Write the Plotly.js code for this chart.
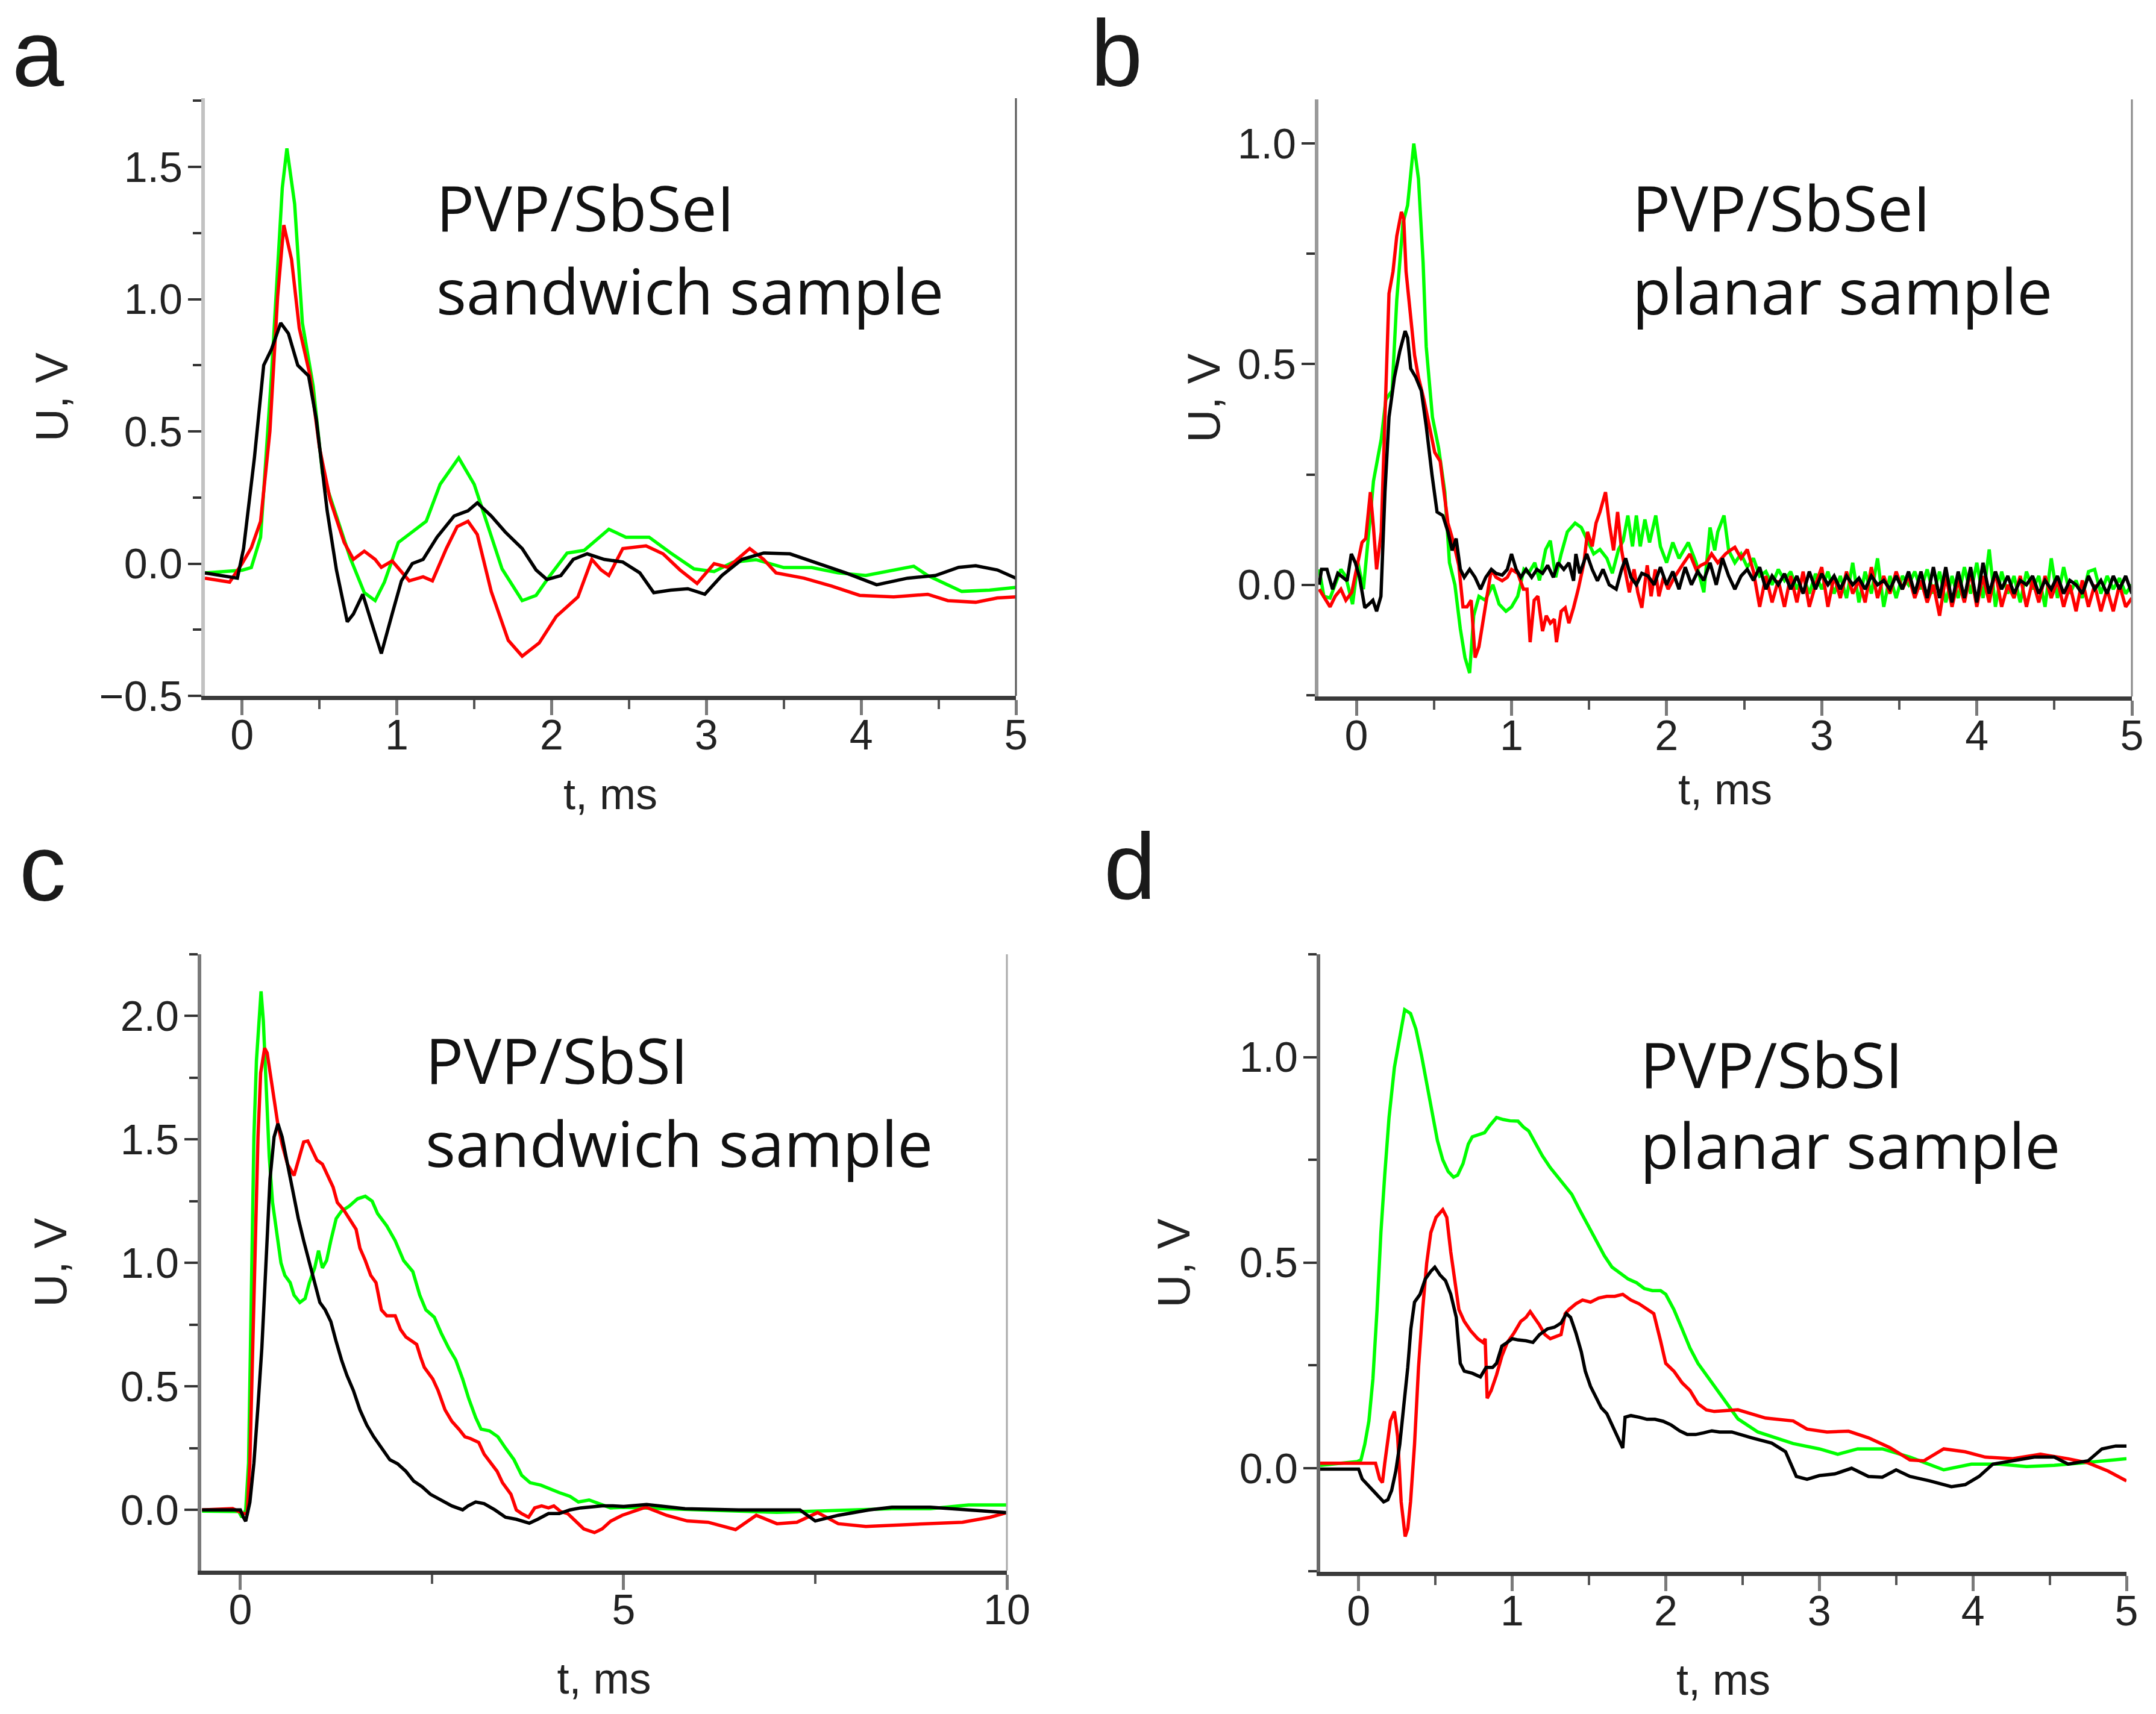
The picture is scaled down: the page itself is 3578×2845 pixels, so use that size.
<!DOCTYPE html>
<html><head><meta charset="utf-8">
<script src="https://cdn.plot.ly/plotly-3.0.1.min.js"></script>
<style>html,body{margin:0;padding:0;background:#fff}#chart{width:3578px;height:2845px}</style>
</head><body><div id="chart"></div>
<script>
// ---------------- DATA (t in ms, U in V) ----------------
const panelLetters = ['a','b','c','d'];
const panelTitles = [['PVP/SbSeI','sandwich sample'],['PVP/SbSeI','planar sample'],['PVP/SbSI','sandwich sample'],['PVP/SbSI','planar sample']];
const seriesColors = ['#00ff00','#ff0000','#000000'];

// panel a : PVP/SbSeI sandwich
const a_green = [[-0.24,-0.035],[-0.1,-0.03],[0,-0.025],[0.06,-0.015],[0.12,0.10],[0.19,0.71],[0.26,1.42],[0.29,1.57],[0.34,1.36],[0.39,0.91],[0.46,0.67],[0.52,0.34],[0.61,0.18],[0.70,0.02],[0.79,-0.11],[0.86,-0.14],[0.92,-0.07],[1.01,0.08],[1.10,0.12],[1.19,0.16],[1.28,0.30],[1.40,0.40],[1.50,0.30],[1.59,0.14],[1.68,-0.02],[1.81,-0.14],[1.90,-0.12],[1.99,-0.045],[2.10,0.04],[2.21,0.05],[2.37,0.13],[2.48,0.10],[2.63,0.10],[2.77,0.04],[2.92,-0.02],[3.05,-0.03],[3.17,0.005],[3.32,0.015],[3.50,-0.015],[3.68,-0.015],[3.85,-0.035],[4.03,-0.045],[4.21,-0.025],[4.34,-0.01],[4.43,-0.045],[4.65,-0.105],[4.83,-0.10],[5.0,-0.09]];
const a_red = [[-0.24,-0.055],[-0.08,-0.07],[0,0.0],[0.06,0.06],[0.12,0.16],[0.18,0.5],[0.23,1.01],[0.27,1.28],[0.32,1.15],[0.37,0.89],[0.44,0.71],[0.50,0.44],[0.57,0.24],[0.66,0.08],[0.72,0.016],[0.79,0.047],[0.86,0.016],[0.90,-0.014],[0.97,0.01],[1.08,-0.065],[1.17,-0.05],[1.23,-0.065],[1.32,0.057],[1.39,0.14],[1.46,0.16],[1.52,0.11],[1.61,-0.105],[1.72,-0.29],[1.81,-0.35],[1.92,-0.30],[2.03,-0.20],[2.17,-0.126],[2.26,0.016],[2.32,-0.024],[2.37,-0.045],[2.46,0.057],[2.61,0.067],[2.72,0.037],[2.83,-0.024],[2.94,-0.075],[3.05,0.0],[3.14,-0.014],[3.28,0.057],[3.37,0.016],[3.45,-0.035],[3.63,-0.055],[3.81,-0.085],[3.99,-0.12],[4.21,-0.126],[4.43,-0.116],[4.56,-0.14],[4.74,-0.146],[4.88,-0.13],[5.0,-0.126]];
const a_black = [[-0.24,-0.035],[-0.03,-0.055],[0.01,0.057],[0.08,0.40],[0.14,0.75],[0.19,0.81],[0.25,0.91],[0.30,0.87],[0.36,0.75],[0.43,0.71],[0.48,0.545],[0.55,0.2],[0.61,-0.024],[0.68,-0.22],[0.72,-0.19],[0.78,-0.116],[0.83,-0.21],[0.90,-0.34],[0.97,-0.19],[1.03,-0.065],[1.10,0.0],[1.17,0.016],[1.26,0.1],[1.37,0.18],[1.46,0.2],[1.52,0.23],[1.61,0.18],[1.70,0.12],[1.81,0.057],[1.90,-0.024],[1.97,-0.06],[2.06,-0.045],[2.14,0.016],[2.23,0.037],[2.34,0.016],[2.46,0.006],[2.57,-0.035],[2.66,-0.11],[2.77,-0.10],[2.88,-0.095],[2.99,-0.116],[3.10,-0.045],[3.23,0.016],[3.37,0.04],[3.54,0.037],[3.72,0.0],[3.90,-0.035],[4.10,-0.08],[4.30,-0.055],[4.48,-0.045],[4.63,-0.014],[4.74,-0.008],[4.88,-0.024],[5.0,-0.055]];

// panel b : PVP/SbSeI planar
const b_green = [[-0.24,0.035],[-0.21,-0.026],[-0.17,-0.03],[-0.14,0.0],[-0.10,0.035],[-0.07,0.02],[-0.025,-0.044],[0.01,0.05],[0.045,-0.01],[0.08,0.12],[0.11,0.235],[0.16,0.33],[0.19,0.42],[0.23,0.44],[0.26,0.645],[0.30,0.82],[0.33,0.86],[0.37,1.0],[0.40,0.92],[0.43,0.73],[0.45,0.54],[0.49,0.38],[0.53,0.31],[0.57,0.21],[0.60,0.05],[0.635,0.0],[0.67,-0.1],[0.70,-0.165],[0.73,-0.20],[0.756,-0.07],[0.79,-0.026],[0.83,-0.035],[0.88,0.0],[0.92,-0.044],[0.964,-0.06],[1.0,-0.05],[1.04,-0.026],[1.08,0.035],[1.11,0.026],[1.15,0.05],[1.18,0.01],[1.22,0.08],[1.25,0.1],[1.285,0.017],[1.32,0.07],[1.36,0.12],[1.41,0.14],[1.45,0.13],[1.485,0.105],[1.53,0.07],[1.57,0.08],[1.615,0.06],[1.65,0.026],[1.69,0.08],[1.72,0.1],[1.75,0.157],[1.78,0.087],[1.805,0.157],[1.83,0.087],[1.86,0.148],[1.89,0.096],[1.93,0.157],[1.96,0.087],[2.0,0.05],[2.04,0.096],[2.08,0.06],[2.14,0.096],[2.19,0.05],[2.24,-0.017],[2.28,0.13],[2.31,0.078],[2.33,0.12],[2.37,0.157],[2.40,0.078],[2.44,0.05],[2.48,0.07],[2.52,0.04],[2.56,0.06],[2.60,0.02],[2.64,0.03],[2.68,0.0],[2.72,0.035],[2.76,0.01],[2.80,0.03],[2.84,-0.01],[2.88,0.02],[2.92,-0.02],[2.96,0.025],[3.00,-0.01],[3.04,0.03],[3.08,-0.02],[3.12,0.02],[3.16,-0.03],[3.20,0.05],[3.24,-0.04],[3.28,0.03],[3.32,-0.02],[3.36,0.06],[3.40,-0.05],[3.44,0.02],[3.48,-0.03],[3.52,0.02],[3.56,0.0],[3.60,0.03],[3.64,-0.01],[3.68,0.035],[3.72,-0.02],[3.76,0.03],[3.80,-0.04],[3.84,0.02],[3.88,-0.03],[3.92,0.04],[3.96,-0.02],[4.00,0.05],[4.04,-0.03],[4.08,0.08],[4.12,-0.05],[4.16,0.03],[4.20,-0.02],[4.24,0.02],[4.28,-0.04],[4.32,0.03],[4.36,-0.01],[4.40,0.02],[4.44,-0.05],[4.48,0.06],[4.52,-0.03],[4.56,0.04],[4.60,-0.02],[4.64,0.01],[4.68,-0.03],[4.72,0.03],[4.76,0.035],[4.80,-0.02],[4.84,0.02],[4.88,-0.01],[4.92,0.015],[4.96,-0.02],[5.0,0.0]];
const b_red = [[-0.24,-0.01],[-0.206,-0.03],[-0.17,-0.05],[-0.137,-0.026],[-0.10,-0.01],[-0.068,-0.035],[-0.03,-0.017],[0.0,0.035],[0.036,0.096],[0.06,0.105],[0.09,0.21],[0.11,0.13],[0.13,0.035],[0.16,0.12],[0.18,0.34],[0.21,0.66],[0.236,0.71],[0.26,0.79],[0.29,0.845],[0.305,0.83],[0.32,0.71],[0.35,0.60],[0.375,0.52],[0.40,0.47],[0.435,0.42],[0.47,0.36],[0.505,0.30],[0.54,0.28],[0.565,0.21],[0.59,0.14],[0.626,0.096],[0.66,0.044],[0.687,-0.05],[0.713,-0.05],[0.74,-0.035],[0.765,-0.165],[0.79,-0.14],[0.817,-0.08],[0.843,-0.026],[0.87,0.035],[0.90,0.017],[0.94,0.009],[0.973,0.017],[1.0,0.035],[1.04,0.026],[1.077,-0.01],[1.10,-0.01],[1.12,-0.13],[1.146,-0.035],[1.17,-0.026],[1.20,-0.105],[1.224,-0.07],[1.25,-0.087],[1.276,-0.078],[1.29,-0.13],[1.32,-0.06],[1.346,-0.052],[1.37,-0.087],[1.40,-0.052],[1.43,-0.01],[1.467,0.05],[1.49,0.12],[1.52,0.087],[1.545,0.14],[1.57,0.165],[1.606,0.21],[1.63,0.14],[1.658,0.078],[1.684,0.165],[1.71,0.078],[1.736,0.026],[1.76,-0.017],[1.79,0.035],[1.814,-0.017],[1.84,-0.052],[1.875,0.044],[1.90,-0.026],[1.927,0.035],[1.95,-0.026],[1.98,0.017],[2.01,-0.01],[2.05,0.017],[2.10,0.044],[2.15,0.07],[2.19,0.035],[2.22,0.044],[2.256,0.05],[2.29,0.07],[2.33,0.05],[2.38,0.07],[2.41,0.078],[2.44,0.085],[2.48,0.06],[2.52,0.08],[2.56,0.03],[2.60,-0.05],[2.64,0.02],[2.68,-0.04],[2.72,0.01],[2.76,-0.05],[2.80,0.02],[2.84,-0.04],[2.88,0.03],[2.92,-0.05],[2.96,0.0],[3.00,0.04],[3.04,-0.05],[3.08,0.02],[3.12,-0.03],[3.16,0.03],[3.20,-0.02],[3.24,0.01],[3.28,-0.04],[3.32,0.04],[3.36,-0.03],[3.40,0.02],[3.44,-0.02],[3.48,0.03],[3.52,-0.01],[3.56,0.02],[3.60,-0.03],[3.64,0.01],[3.68,-0.04],[3.72,0.0],[3.76,-0.07],[3.80,0.02],[3.84,-0.05],[3.88,0.01],[3.92,-0.04],[3.96,0.03],[4.00,-0.05],[4.04,0.02],[4.08,-0.04],[4.12,0.03],[4.16,-0.05],[4.20,0.0],[4.24,-0.03],[4.28,0.02],[4.32,-0.05],[4.36,0.01],[4.40,-0.04],[4.44,0.02],[4.48,-0.03],[4.52,0.01],[4.56,-0.05],[4.60,0.0],[4.64,-0.06],[4.68,0.01],[4.72,-0.05],[4.76,0.0],[4.80,-0.06],[4.84,-0.01],[4.88,-0.06],[4.92,0.0],[4.96,-0.05],[5.0,-0.03]];
const b_black = [[-0.24,0.0],[-0.225,0.035],[-0.19,0.035],[-0.154,-0.01],[-0.12,0.026],[-0.085,0.017],[-0.06,0.009],[-0.033,0.07],[-0.007,0.05],[0.02,0.017],[0.054,-0.052],[0.08,-0.044],[0.106,-0.035],[0.13,-0.06],[0.158,-0.026],[0.184,0.21],[0.21,0.38],[0.245,0.47],[0.28,0.53],[0.314,0.575],[0.33,0.56],[0.35,0.49],[0.383,0.47],[0.418,0.44],[0.45,0.36],[0.487,0.25],[0.52,0.165],[0.557,0.157],[0.59,0.12],[0.617,0.078],[0.643,0.105],[0.67,0.035],[0.695,0.017],[0.73,0.035],[0.765,0.017],[0.80,-0.01],[0.834,0.017],[0.87,0.035],[0.90,0.026],[0.94,0.022],[0.973,0.035],[1.0,0.07],[1.03,0.035],[1.06,0.017],[1.094,0.035],[1.13,0.017],[1.164,0.035],[1.2,0.026],[1.233,0.044],[1.27,0.017],[1.30,0.05],[1.337,0.035],[1.37,0.05],[1.40,0.009],[1.415,0.07],[1.44,0.026],[1.485,0.07],[1.52,0.035],[1.554,0.009],[1.59,0.035],[1.63,0.0],[1.675,-0.01],[1.71,0.035],[1.736,0.06],[1.77,0.017],[1.805,0.0],[1.84,0.026],[1.88,0.02],[1.92,0.0],[1.96,0.04],[2.00,0.0],[2.04,0.03],[2.08,-0.01],[2.12,0.04],[2.16,0.0],[2.20,0.03],[2.24,0.01],[2.28,0.05],[2.32,0.0],[2.36,0.06],[2.40,0.02],[2.44,-0.01],[2.48,0.02],[2.52,0.035],[2.56,0.01],[2.60,0.04],[2.64,-0.01],[2.68,0.02],[2.72,0.0],[2.76,0.025],[2.80,-0.01],[2.84,0.02],[2.88,-0.02],[2.92,0.03],[2.96,-0.01],[3.00,0.025],[3.04,0.0],[3.08,0.02],[3.12,-0.01],[3.16,0.02],[3.20,0.0],[3.24,0.015],[3.28,-0.01],[3.32,0.02],[3.36,0.0],[3.40,0.01],[3.44,-0.01],[3.48,0.02],[3.52,-0.01],[3.56,0.03],[3.60,-0.02],[3.64,0.03],[3.68,-0.03],[3.72,0.04],[3.76,-0.03],[3.80,0.04],[3.84,-0.04],[3.88,0.03],[3.92,-0.03],[3.96,0.04],[4.00,-0.04],[4.04,0.05],[4.08,-0.02],[4.12,0.03],[4.16,-0.01],[4.20,0.02],[4.24,-0.02],[4.28,0.01],[4.32,0.0],[4.36,0.02],[4.40,-0.02],[4.44,0.01],[4.48,-0.01],[4.52,0.02],[4.56,-0.02],[4.60,0.01],[4.64,0.0],[4.68,-0.02],[4.72,0.02],[4.76,-0.01],[4.80,0.01],[4.84,-0.02],[4.88,0.02],[4.92,-0.01],[4.96,0.02],[5.0,-0.02]];

// panel c : PVP/SbSI sandwich
const c_green = [[-0.5,-0.005],[-0.02,-0.007],[0.02,-0.03],[0.07,0.0],[0.107,0.19],[0.14,0.81],[0.177,1.51],[0.21,1.82],[0.247,2.02],[0.27,2.10],[0.30,1.98],[0.335,1.74],[0.377,1.43],[0.42,1.245],[0.475,1.12],[0.53,1.0],[0.58,0.95],[0.65,0.92],[0.70,0.87],[0.776,0.84],[0.845,0.856],[0.9,0.92],[0.97,0.98],[1.02,1.05],[1.07,0.98],[1.125,1.01],[1.18,1.09],[1.25,1.18],[1.32,1.21],[1.42,1.23],[1.53,1.26],[1.63,1.27],[1.72,1.25],[1.79,1.2],[1.91,1.15],[2.02,1.09],[2.13,1.01],[2.25,0.965],[2.34,0.87],[2.42,0.81],[2.53,0.78],[2.62,0.716],[2.72,0.654],[2.81,0.607],[2.90,0.53],[2.98,0.45],[3.07,0.374],[3.14,0.327],[3.25,0.32],[3.36,0.296],[3.46,0.25],[3.57,0.203],[3.67,0.14],[3.78,0.11],[3.92,0.10],[4.02,0.086],[4.16,0.07],[4.30,0.055],[4.41,0.032],[4.55,0.04],[4.69,0.024],[4.83,0.008],[5.0,0.01],[5.5,0.005],[6.0,0.0],[6.5,-0.005],[7.0,-0.01],[7.5,-0.005],[8.0,0.0],[8.5,0.005],[9.0,0.005],[9.5,0.02],[10.0,0.02]];
const c_red = [[-0.5,0.0],[-0.1,0.005],[0.04,-0.015],[0.09,-0.015],[0.124,0.19],[0.16,0.65],[0.195,1.12],[0.23,1.51],[0.265,1.77],[0.317,1.87],[0.35,1.85],[0.387,1.77],[0.44,1.665],[0.49,1.56],[0.545,1.48],[0.615,1.40],[0.70,1.354],[0.776,1.43],[0.826,1.49],[0.88,1.494],[0.93,1.46],[1.0,1.416],[1.07,1.40],[1.14,1.354],[1.21,1.307],[1.265,1.245],[1.35,1.214],[1.42,1.18],[1.51,1.136],[1.56,1.06],[1.63,1.01],[1.70,0.95],[1.77,0.92],[1.84,0.81],[1.91,0.786],[2.02,0.786],[2.09,0.73],[2.16,0.70],[2.23,0.685],[2.30,0.67],[2.35,0.62],[2.40,0.577],[2.51,0.53],[2.58,0.483],[2.67,0.405],[2.76,0.358],[2.85,0.327],[2.93,0.296],[3.00,0.289],[3.11,0.273],[3.18,0.226],[3.28,0.187],[3.35,0.156],[3.42,0.11],[3.53,0.063],[3.60,0.0],[3.67,-0.015],[3.76,-0.03],[3.84,0.008],[3.93,0.016],[4.02,0.008],[4.09,0.016],[4.18,-0.007],[4.27,-0.015],[4.37,-0.046],[4.48,-0.077],[4.62,-0.092],[4.72,-0.077],[4.83,-0.046],[4.98,-0.022],[5.29,0.011],[5.56,-0.022],[5.83,-0.045],[6.1,-0.05],[6.46,-0.08],[6.73,-0.022],[7.0,-0.056],[7.26,-0.05],[7.53,-0.011],[7.80,-0.056],[8.16,-0.067],[8.52,-0.062],[8.97,-0.056],[9.42,-0.05],[9.78,-0.03],[10.0,-0.011]];
const c_black = [[-0.5,0.0],[0.0,0.0],[0.04,-0.03],[0.07,-0.046],[0.124,0.03],[0.177,0.19],[0.23,0.42],[0.28,0.654],[0.317,0.887],[0.35,1.12],[0.387,1.34],[0.44,1.51],[0.49,1.564],[0.545,1.51],[0.615,1.40],[0.686,1.29],[0.756,1.18],[0.826,1.09],[0.896,1.01],[0.97,0.92],[1.037,0.84],[1.107,0.81],[1.18,0.763],[1.247,0.685],[1.32,0.607],[1.39,0.545],[1.475,0.483],[1.56,0.405],[1.65,0.343],[1.74,0.296],[1.84,0.25],[1.95,0.203],[2.05,0.187],[2.16,0.156],[2.26,0.117],[2.37,0.094],[2.48,0.063],[2.62,0.04],[2.76,0.016],[2.90,0.0],[2.97,0.016],[3.07,0.032],[3.18,0.025],[3.32,0.0],[3.46,-0.03],[3.60,-0.038],[3.77,-0.054],[3.88,-0.038],[4.02,-0.015],[4.16,-0.015],[4.30,0.0],[4.44,0.008],[4.58,0.012],[4.72,0.016],[4.86,0.016],[5.0,0.014],[5.3,0.022],[5.8,0.005],[6.5,0.0],[7.0,0.0],[7.3,0.0],[7.5,-0.045],[7.8,-0.022],[8.2,0.0],[8.5,0.011],[9.0,0.011],[9.5,0.0],[10.0,-0.011]];

// panel d : PVP/SbSI planar
const d_green = [[-0.25,0.007],[-0.08,0.012],[-0.01,0.016],[0.015,0.02],[0.04,0.058],[0.067,0.115],[0.093,0.217],[0.12,0.386],[0.145,0.573],[0.17,0.713],[0.198,0.853],[0.233,0.975],[0.27,1.05],[0.30,1.115],[0.338,1.106],[0.373,1.068],[0.41,1.003],[0.443,0.937],[0.478,0.862],[0.513,0.797],[0.548,0.75],[0.583,0.722],[0.618,0.708],[0.645,0.713],[0.68,0.741],[0.714,0.788],[0.74,0.806],[0.776,0.811],[0.82,0.816],[0.855,0.834],[0.898,0.853],[0.942,0.848],[0.986,0.845],[1.038,0.844],[1.073,0.83],[1.108,0.82],[1.143,0.797],[1.196,0.76],[1.248,0.731],[1.30,0.708],[1.353,0.684],[1.388,0.666],[1.44,0.628],[1.493,0.591],[1.546,0.554],[1.60,0.517],[1.65,0.489],[1.70,0.475],[1.756,0.46],[1.81,0.451],[1.86,0.437],[1.913,0.432],[1.966,0.432],[2.0,0.423],[2.053,0.386],[2.106,0.339],[2.158,0.292],[2.21,0.255],[2.264,0.227],[2.316,0.199],[2.37,0.17],[2.42,0.147],[2.47,0.12],[2.60,0.088],[2.83,0.06],[3.0,0.047],[3.12,0.034],[3.25,0.047],[3.41,0.047],[3.59,0.027],[3.81,-0.004],[3.99,0.01],[4.17,0.01],[4.35,0.004],[4.53,0.007],[4.71,0.013],[4.84,0.018],[5.0,0.023]];
const d_red = [[-0.25,0.012],[0.093,0.012],[0.11,0.012],[0.137,-0.026],[0.155,-0.035],[0.17,0.012],[0.207,0.115],[0.233,0.138],[0.254,0.077],[0.277,-0.082],[0.303,-0.166],[0.32,-0.147],[0.338,-0.082],[0.364,0.058],[0.39,0.245],[0.417,0.386],[0.443,0.498],[0.47,0.573],[0.504,0.61],[0.548,0.629],[0.574,0.61],[0.60,0.526],[0.627,0.451],[0.653,0.386],[0.688,0.357],[0.73,0.334],[0.776,0.315],[0.81,0.306],[0.824,0.315],[0.837,0.17],[0.863,0.189],[0.898,0.227],[0.933,0.273],[0.968,0.306],[1.012,0.329],[1.056,0.357],[1.09,0.367],[1.117,0.381],[1.143,0.367],[1.178,0.348],[1.213,0.325],[1.248,0.315],[1.283,0.32],[1.318,0.325],[1.345,0.376],[1.37,0.386],[1.415,0.40],[1.458,0.409],[1.51,0.404],[1.563,0.414],[1.616,0.418],[1.668,0.418],[1.72,0.423],[1.773,0.409],[1.826,0.40],[1.878,0.386],[1.922,0.376],[1.966,0.31],[2.0,0.255],[2.053,0.236],[2.106,0.208],[2.158,0.189],[2.21,0.157],[2.264,0.142],[2.316,0.138],[2.386,0.14],[2.47,0.142],[2.65,0.122],[2.83,0.115],[2.92,0.095],[3.05,0.088],[3.19,0.09],[3.32,0.074],[3.46,0.05],[3.59,0.02],[3.68,0.018],[3.81,0.047],[3.95,0.04],[4.08,0.027],[4.26,0.023],[4.44,0.034],[4.62,0.023],[4.75,0.013],[4.88,-0.007],[5.0,-0.031]];
const d_black = [[-0.25,-0.002],[0.0,-0.002],[0.023,-0.026],[0.058,-0.04],[0.093,-0.054],[0.128,-0.068],[0.163,-0.082],[0.19,-0.077],[0.215,-0.054],[0.242,-0.007],[0.268,0.058],[0.294,0.152],[0.32,0.245],[0.34,0.339],[0.364,0.404],[0.40,0.423],[0.434,0.46],[0.47,0.479],[0.496,0.489],[0.53,0.47],[0.566,0.456],[0.60,0.423],[0.636,0.367],[0.662,0.255],[0.688,0.236],[0.74,0.231],[0.793,0.222],[0.83,0.245],[0.872,0.245],[0.898,0.255],[0.933,0.297],[0.968,0.306],[1.0,0.315],[1.038,0.312],[1.09,0.31],[1.135,0.306],[1.178,0.325],[1.23,0.339],[1.275,0.343],[1.318,0.353],[1.353,0.376],[1.38,0.367],[1.415,0.329],[1.45,0.283],[1.476,0.236],[1.51,0.199],[1.546,0.17],[1.58,0.147],[1.616,0.133],[1.65,0.105],[1.686,0.077],[1.72,0.049],[1.735,0.124],[1.773,0.128],[1.826,0.124],[1.878,0.119],[1.93,0.119],[1.984,0.114],[2.036,0.105],[2.09,0.091],[2.14,0.082],[2.194,0.082],[2.246,0.086],[2.30,0.091],[2.35,0.088],[2.43,0.088],[2.56,0.074],[2.69,0.061],[2.78,0.04],[2.85,-0.02],[2.92,-0.027],[3.0,-0.018],[3.10,-0.014],[3.21,0.0],[3.32,-0.02],[3.41,-0.022],[3.50,-0.004],[3.59,-0.02],[3.72,-0.031],[3.86,-0.045],[3.95,-0.04],[4.04,-0.02],[4.13,0.01],[4.26,0.018],[4.40,0.027],[4.53,0.027],[4.62,0.01],[4.75,0.018],[4.84,0.047],[4.93,0.054],[5.0,0.054]];

// ---------------- LAYOUT ----------------
const W = 3578, H = 2845;
const px = v => v / W, py = v => 1 - v / H;
const panels = [
  {series:[a_green,a_red,a_black], xr:[-0.24,5], yr:[-0.5,1.76], xd:[340,1686], yd:[163,1155], xdt:1, xmin:0.5, border:'#555', ylc:'#c2c2c2', tx:722, ty:[344,482], lx:18, ltop:0, ystand:29, xstand:37},
  {series:[b_green,b_red,b_black], xr:[-0.245,5], yr:[-0.253,1.10], xd:[2188,3538], yd:[165,1156], xdt:1, xmin:0.5, border:'#888', ylc:'#9a9a9a', tx:2707, ty:[344,482], lx:1808, ltop:0, ystand:6, xstand:28},
  {series:[c_green,c_red,c_black], xr:[-0.51,10], yr:[-0.246,2.25], xd:[334,1671], yd:[1584,2607], xdt:5, xmin:2.5, border:'#aaa', ylc:'#7a7a7a', tx:704, ty:[1758,1896], lx:30, ltop:1352, ystand:66, xstand:53},
  {series:[d_green,d_red,d_black], xr:[-0.25,5], yr:[-0.252,1.25], xd:[2191,3529], yd:[1584,2609], xdt:1, xmin:0.5, border:null, ylc:'#6a6a6a', tx:2720, ty:[1765,1900], lx:1830, ltop:1350, ystand:59, xstand:53}
];

const tickFont = {family:'"Liberation Sans", Arial, sans-serif', size:70, color:'#222'};
const data = [], shapes = [], annotations = [];
const layout = {width:W, height:H, margin:{l:0,r:0,t:0,b:0}, paper_bgcolor:'#fff', plot_bgcolor:'#fff', showlegend:false};

panels.forEach((p, i) => {
  const n = i + 1, xs = 'x' + (i ? n : ''), ys = 'y' + (i ? n : '');
  p.series.forEach((s, k) => {
    data.push({type:'scatter', mode:'lines', x:s.map(q=>q[0]), y:s.map(q=>q[1]), xaxis:xs, yaxis:ys,
      line:{color:seriesColors[k], width:5.5}, hoverinfo:'skip'});
  });
  layout['xaxis' + (i ? n : '')] = {
    domain:[px(p.xd[0]), px(p.xd[1])], range:p.xr, anchor:ys, tick0:0, dtick:p.xdt,
    ticks:'outside', ticklen:25, tickwidth:5, tickcolor:'#7a7a7a', ticklabelstandoff:-27,
    showline:true, linecolor:'#3a3a3a', linewidth:7, showgrid:false, zeroline:false,
    tickfont:tickFont, automargin:false,
    minor:{tick0:0, dtick:p.xmin, ticks:'outside', ticklen:15, tickwidth:4, tickcolor:'#555', showgrid:false},
    title:{text:'t, ms', font:{family:'"Liberation Sans", Arial, sans-serif', size:72, color:'#222'}, standoff:p.xstand},
    fixedrange:true
  };
  layout['yaxis' + (i ? n : '')] = {
    domain:[py(p.yd[1]), py(p.yd[0])], range:p.yr, anchor:xs, tick0:0, dtick:0.5, tickformat:'.1f',
    ticks:'outside', ticklen:22, tickwidth:4, tickcolor:'#333', ticklabelstandoff:-5,
    showline:true, linecolor:p.ylc, linewidth:6, showgrid:false, zeroline:false,
    tickfont:tickFont, automargin:false,
    minor:{tick0:0, dtick:0.25, ticks:'outside', ticklen:14, tickwidth:4, tickcolor:'#333', showgrid:false},
    title:{text:'U, V', font:{family:'"Liberation Sans Narrow", "Liberation Sans", Arial, sans-serif', size:76, color:'#222'}, standoff:p.ystand},
    fixedrange:true
  };
  if (p.border) {
    shapes.push({type:'line', xref:xs + ' domain', yref:ys + ' domain', x0:1, x1:1, y0:0, y1:1, line:{color:p.border, width:3}});
  }
  annotations.push({xref:'paper', yref:'paper', x:px(p.lx), y:py(p.ltop), xanchor:'left', yanchor:'top', showarrow:false,
    text:panelLetters[i], font:{family:'"Liberation Sans Narrow", "Liberation Sans", Arial, sans-serif', size:155, color:'#1a1a1a'}});
  panelTitles[i].forEach((t, j) => {
    annotations.push({xref:'paper', yref:'paper', x:px(p.tx), y:py(p.ty[j]), xanchor:'left', yanchor:'middle', showarrow:false,
      text:t, font:{family:'"Open Sans", "Noto Sans", sans-serif', size:105, color:'#111'}});
  });
});
layout.shapes = shapes;
layout.annotations = annotations;

Plotly.newPlot('chart', data, layout, {staticPlot:true, displayModeBar:false});
</script>
</body></html>
